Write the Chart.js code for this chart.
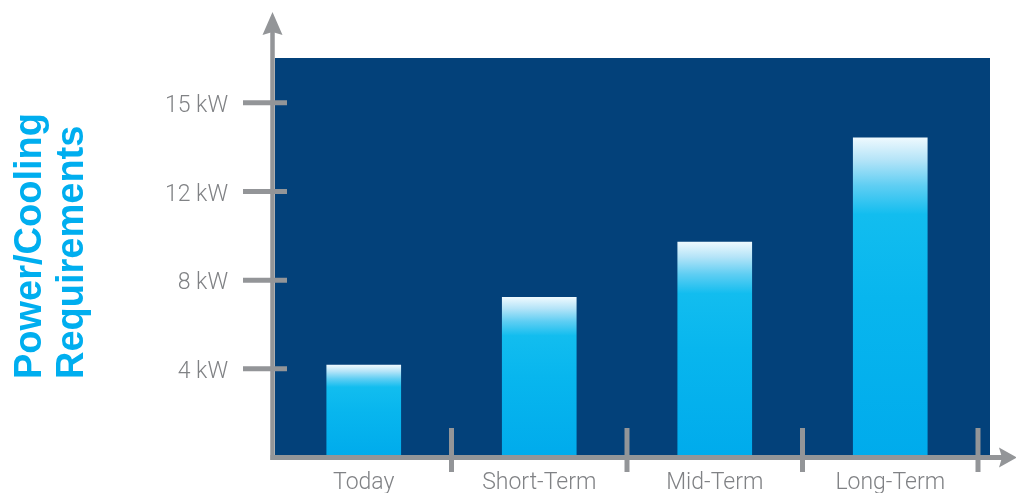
<!DOCTYPE html>
<html>
<head>
<meta charset="utf-8">
<script src="https://cdn.jsdelivr.net/npm/chart.js@4.4.1/dist/chart.umd.min.js"></script>
<style>
  html, body { margin: 0; padding: 0; background: #fff; }
  #wrap { width: 1016px; height: 493px; }
</style>
</head>
<body>
<div id="wrap"><canvas id="chart" width="1016" height="493"></canvas></div>
<script>
'use strict';

// ── Data ──────────────────────────────────────────────────────
const categories = ['Today', 'Short-Term', 'Mid-Term', 'Long-Term'];
const powerKW    = [4.15, 7.2, 9.7, 13.8];
const tickKW     = [4, 8, 12, 15];
const tickLabels = ['4 kW', '8 kW', '12 kW', '15 kW'];
const titleLines = ['Power/Cooling', 'Requirements'];

const NAVY  = '#03417a';
const GREY  = '#939598';
const LABEL = '#808285';
const CYAN  = '#00aeef';
const LIGHT_FONT = '"Helvetica Neue", Roboto, "Liberation Sans", Arial, sans-serif';

// the axis is not linear in kW: every labelled tick is one step apart
function kwToStep(kw) {
  const stops = [0].concat(tickKW);
  for (let i = 1; i < stops.length; i++) {
    if (kw <= stops[i]) return (i - 1) + (kw - stops[i - 1]) / (stops[i] - stops[i - 1]);
  }
  return stops.length - 1;
}

// ── Bar fill: white top fading into cyan ──────────────────────
function barFill(ctx) {
  const chart = ctx.chart;
  const y = chart.scales.y;
  if (!chart.chartArea || !y) return '#0ab8ee';
  const top = y.getPixelForValue(ctx.raw);
  const base = y.getPixelForValue(0);
  const g = chart.ctx.createLinearGradient(0, top, 0, base);
  g.addColorStop(0, '#eef9fe');
  g.addColorStop(0.07, '#b4e4f8');
  g.addColorStop(0.15, '#5fcef3');
  g.addColorStop(0.24, '#12bdef');
  g.addColorStop(0.5, '#08b6ee');
  g.addColorStop(1, '#00abec');
  return g;
}

// ── Frame: navy panel, arrows, tick marks, side title ─────────
const framePlugin = {
  id: 'frame',
  beforeDatasetsDraw(chart) {
    const { ctx, chartArea: a } = chart;
    ctx.save();
    ctx.fillStyle = NAVY;
    ctx.fillRect(a.left - 1, a.top, a.right - a.left + 13, a.bottom - a.top);
    ctx.restore();
  },
  afterDatasetsDraw(chart) {
    const { ctx, chartArea: a, scales } = chart;
    const axisX = a.left - 3.5;
    const axisY = a.bottom + 0.5;
    ctx.save();
    ctx.strokeStyle = GREY;
    ctx.fillStyle = GREY;

    // vertical axis + arrow
    ctx.lineWidth = 4.5;
    ctx.beginPath();
    ctx.moveTo(axisX, axisY + 2.5);
    ctx.lineTo(axisX, 30);
    ctx.stroke();
    ctx.beginPath();
    ctx.moveTo(axisX, 12);
    ctx.lineTo(axisX + 10, 35);
    ctx.lineTo(axisX, 32);
    ctx.lineTo(axisX - 10, 35);
    ctx.closePath();
    ctx.fill();

    // horizontal axis + arrow
    ctx.lineWidth = 5;
    ctx.beginPath();
    ctx.moveTo(axisX - 2, axisY);
    ctx.lineTo(1004, axisY);
    ctx.stroke();
    ctx.beginPath();
    ctx.moveTo(1017, axisY);
    ctx.lineTo(999, axisY - 10);
    ctx.lineTo(1002, axisY);
    ctx.lineTo(999, axisY + 10);
    ctx.closePath();
    ctx.fill();

    // y tick marks crossing the axis
    ctx.lineWidth = 5;
    scales.y.ticks.forEach(t => {
      const py = scales.y.getPixelForValue(t.value) + 0.5;
      ctx.beginPath();
      ctx.moveTo(243, py);
      ctx.lineTo(287, py);
      ctx.stroke();
    });

    // x separators between categories
    const step = scales.x.getPixelForValue(1) - scales.x.getPixelForValue(0);
    categories.forEach((c, i) => {
      const px = scales.x.getPixelForValue(i) + step / 2;
      ctx.beginPath();
      ctx.moveTo(px, 428);
      ctx.lineTo(px, 472);
      ctx.stroke();
    });

    // rotated two-line title
    ctx.fillStyle = CYAN;
    ctx.font = 'bold 38px "Liberation Sans", Arial, sans-serif';
    ctx.textAlign = 'left';
    ctx.textBaseline = 'alphabetic';
    [41, 83].forEach((tx, i) => {
      ctx.save();
      ctx.translate(tx, 379);
      ctx.rotate(-Math.PI / 2);
      ctx.fillText(titleLines[i], 0, 0);
      ctx.restore();
    });
    ctx.restore();
  }
};

// ── Chart ─────────────────────────────────────────────────────
new Chart(document.getElementById('chart'), {
  type: 'bar',
  data: {
    labels: categories,
    datasets: [{
      label: 'Power/Cooling Requirements',
      data: powerKW.map(kwToStep),
      backgroundColor: barFill,
      borderWidth: 0,
      barThickness: 74,
    }],
  },
  options: {
    responsive: false,
    animation: false,
    layout: { padding: { left: 0, right: 38, top: 58, bottom: 0 } },
    plugins: {
      legend: { display: false },
      tooltip: { callbacks: { label: c => powerKW[c.dataIndex] + ' kW' } },
    },
    scales: {
      x: {
        grid: { display: false, drawTicks: false },
        border: { display: false },
        ticks: { color: LABEL, font: { family: LIGHT_FONT, size: 23, weight: 300 }, padding: 12 },
        afterFit(s) { s.height = 36; },
      },
      y: {
        min: 0,
        max: 4.5,
        afterBuildTicks(s) { s.ticks = tickKW.map((_, i) => ({ value: i + 1 })); },
        // invisible tick marks give the gap between labels and axis
        grid: { display: true, drawOnChartArea: false, drawTicks: true, tickLength: 48, tickColor: 'rgba(0,0,0,0)' },
        border: { display: false },
        ticks: {
          callback: (v, i) => tickLabels[i],
          color: LABEL,
          font: { family: LIGHT_FONT, size: 23, weight: 300 },
          padding: 0,
          labelOffset: 4,
        },
        afterFit(s) { s.width = 276; s.paddingTop = 0; s.paddingBottom = 0; },
      },
    },
  },
  plugins: [framePlugin],
});
</script>
</body>
</html>
